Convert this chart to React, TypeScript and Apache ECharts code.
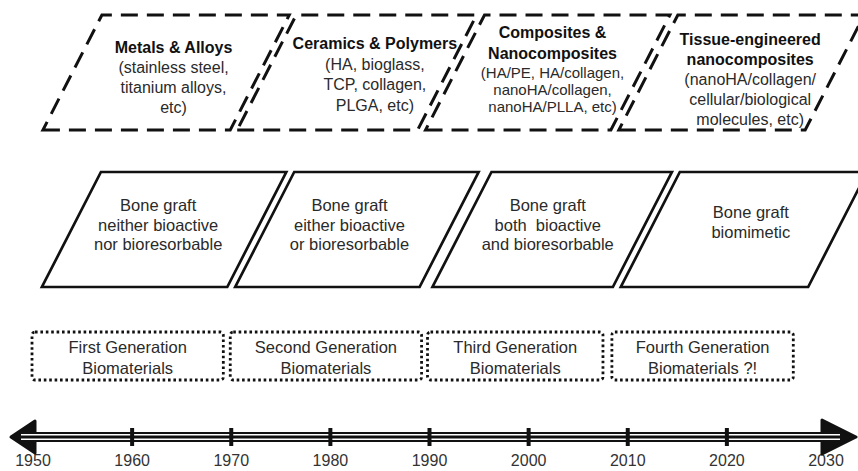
import React, { useEffect, useRef } from "react";
import * as echarts from "echarts";

// ---- data ----
const yearTicks = [1950, 1960, 1970, 1980, 1990, 2000, 2010, 2020, 2030];
const tickMarkYears = [1960, 1970, 1980, 1990, 2000, 2010, 2020];

const materialSpans = [
  [1951.0, 1969.9],
  [1970.6, 1988.8],
  [1989.6, 2008.3],
  [2009.1, 2027.9],
];
const materialTitles = [
  ["Metals & Alloys"],
  ["Ceramics & Polymers"],
  ["Composites &", "Nanocomposites"],
  ["Tissue-engineered", "nanocomposites"],
];
const materialExamples = [
  ["(stainless steel,", "titanium alloys,", "etc)"],
  ["(HA, bioglass,", "TCP, collagen,", "PLGA, etc)"],
  ["(HA/PE, HA/collagen,", "nanoHA/collagen,", "nanoHA/PLLA, etc)"],
  ["(nanoHA/collagen/", "cellular/biological", "molecules, etc)"],
];

const graftSpans = [
  [1950.9, 1969.6],
  [1970.4, 1989.0],
  [1990.3, 2008.5],
  [2009.3, 2028.2],
];
const graftLabels = [
  ["Bone graft", "neither bioactive", "nor bioresorbable"],
  ["Bone graft", "either bioactive", "or bioresorbable"],
  ["Bone graft", "both  bioactive", "and bioresorbable"],
  ["Bone graft", "biomimetic"],
];

const generationSpans = [
  [1949.9, 1969.2],
  [1969.9, 1989.2],
  [1989.8, 2007.5],
  [2008.4, 2026.7],
];
const generationLabels = [
  ["First Generation", "Biomaterials"],
  ["Second Generation", "Biomaterials"],
  ["Third Generation", "Biomaterials"],
  ["Fourth Generation", "Biomaterials ?!"],
];

// ---- layout (pixel-like y units above the timeline) ----
const ROW_TOP = [307, 422];
const ROW_MID = [150, 265];
const ROW_GEN = [57, 105];
const SKEW = 59;
const FONT = "'Liberation Sans', Arial, Helvetica, sans-serif";

const topLayout = [
  { dx: 10, dy: 5, subSize: 16, subLH: 20, titleLH: 20 },
  { dx: 19, dy: 2, subSize: 16, subLH: 20.5, titleLH: 20.5 },
  { dx: 2.5, dy: -4.5, subSize: 15, subLH: 17, titleLH: 21 },
  { dx: 12, dy: 6.5, subSize: 16, subLH: 20, titleLH: 20 },
];
const midLayout = [
  { dx: -8.5, dy: -5 },
  { dx: -10, dy: -5 },
  { dx: -7, dy: -5 },
  { dx: 3, dy: -7.5 },
];

type Line = { text: string; bold?: boolean; size: number; lh: number };

function textBlock(lines: Line[], cx: number, cy: number) {
  const total = lines.reduce((a, l) => a + l.lh, 0);
  let y = cy - total / 2;
  return lines.map((l) => {
    const el = {
      type: "text",
      x: cx,
      y: y + l.lh / 2,
      style: {
        text: l.text,
        fill: l.bold ? "#111" : "#2a2a2a",
        fontSize: l.size,
        fontWeight: l.bold ? "bold" : "normal",
        fontFamily: FONT,
        align: "center",
        verticalAlign: "middle",
      },
    };
    y += l.lh;
    return el;
  });
}

function skewPoints(api: any, s: number, e: number, row: number[]) {
  const bl = api.coord([s, row[0]]);
  const br = api.coord([e, row[0]]);
  const top = api.coord([s, row[1]])[1];
  const bottom = bl[1];
  return {
    points: [
      [bl[0], bottom],
      [br[0], bottom],
      [br[0] + SKEW, top],
      [bl[0] + SKEW, top],
    ],
    bl: bl[0],
    br: br[0],
    top,
    bottom,
  };
}

export default function App() {
  const ref = useRef<HTMLDivElement>(null);

  useEffect(() => {
    const chart = echarts.init(ref.current!, null, { renderer: "svg" });

    const option: any = {
      animation: false,
      backgroundColor: "#ffffff",
      grid: { left: 33, right: 32, top: 15, bottom: 34 },
      xAxis: {
        type: "value",
        min: 1950,
        max: 2030,
        interval: 10,
        axisLine: { show: false },
        axisTick: { show: false },
        splitLine: { show: false },
        axisLabel: {
          show: true,
          showMinLabel: true,
          showMaxLabel: true,
          margin: 15,
          fontSize: 16,
          color: "#333",
          fontFamily: FONT,
          formatter: (v: number) => (yearTicks.includes(v) ? String(v) : ""),
        },
      },
      yAxis: {
        type: "value",
        min: 0,
        max: 422,
        show: false,
      },
      series: [
        // Materials row (dashed parallelograms)
        {
          type: "custom",
          clip: false,
          data: materialSpans.map((s, i) => [s[0], s[1], i]),
          encode: { x: [0, 1] },
          renderItem: (params: any, api: any) => {
            const i = api.value(2);
            const g = skewPoints(api, api.value(0), api.value(1), ROW_TOP);
            const L = topLayout[i];
            const cy = (g.top + g.bottom) / 2 + L.dy;
            const cx =
              (g.bl + g.br) / 2 + (SKEW * (g.bottom - cy)) / (g.bottom - g.top) + L.dx;
            const lines: Line[] = [
              ...materialTitles[i].map((t) => ({ text: t, bold: true, size: 16, lh: L.titleLH })),
              ...materialExamples[i].map((t) => ({ text: t, size: L.subSize, lh: L.subLH })),
            ];
            return {
              type: "group",
              children: [
                {
                  type: "polygon",
                  shape: { points: g.points },
                  style: { fill: "none", stroke: "#111", lineWidth: 3, lineDash: [17, 9] },
                },
                ...textBlock(lines, cx, cy),
              ],
            };
          },
        },
        // Bone graft row (solid parallelograms)
        {
          type: "custom",
          clip: false,
          data: graftSpans.map((s, i) => [s[0], s[1], i]),
          encode: { x: [0, 1] },
          renderItem: (params: any, api: any) => {
            const i = api.value(2);
            const g = skewPoints(api, api.value(0), api.value(1), ROW_MID);
            const L = midLayout[i];
            const cy = (g.top + g.bottom) / 2 + L.dy;
            const cx =
              (g.bl + g.br) / 2 + (SKEW * (g.bottom - cy)) / (g.bottom - g.top) + L.dx;
            const lines: Line[] = graftLabels[i].map((t) => ({ text: t, size: 16.5, lh: 19.5 }));
            return {
              type: "group",
              children: [
                {
                  type: "polygon",
                  shape: { points: g.points },
                  style: { fill: "none", stroke: "#111", lineWidth: 2.7, lineJoin: "miter" },
                },
                ...textBlock(lines, cx, cy),
              ],
            };
          },
        },
        // Generations row (dotted rectangles)
        {
          type: "custom",
          clip: false,
          data: generationSpans.map((s, i) => [s[0], s[1], i]),
          encode: { x: [0, 1] },
          renderItem: (params: any, api: any) => {
            const i = api.value(2);
            const bl = api.coord([api.value(0), ROW_GEN[0]]);
            const tr = api.coord([api.value(1), ROW_GEN[1]]);
            const cx = (bl[0] + tr[0]) / 2;
            const cy = (bl[1] + tr[1]) / 2 + 1.5;
            const lines: Line[] = generationLabels[i].map((t) => ({ text: t, size: 16.5, lh: 21 }));
            return {
              type: "group",
              children: [
                {
                  type: "rect",
                  shape: { x: bl[0], y: tr[1], width: tr[0] - bl[0], height: bl[1] - tr[1], r: 3 },
                  style: { fill: "none", stroke: "#111", lineWidth: 2.8, lineDash: [2.6, 2.8] },
                },
                ...textBlock(lines, cx, cy),
              ],
            };
          },
        },
        // Timeline bar with arrows
        {
          type: "custom",
          clip: false,
          data: [[1950, 2030]],
          encode: { x: [0, 1] },
          renderItem: (params: any, api: any) => {
            const p0 = api.coord([api.value(0), 0]);
            const p1 = api.coord([api.value(1), 0]);
            const y = p0[1];
            return {
              type: "group",
              children: [
                {
                  type: "rect",
                  shape: { x: p0[0] - 14, y: y - 5, width: p1[0] - p0[0] + 24, height: 10 },
                  style: { fill: "#111" },
                },
                {
                  type: "polygon",
                  shape: {
                    points: [
                      [p0[0] - 22, y],
                      [p0[0] + 2, y - 16],
                      [p0[0] + 2, y + 16],
                    ],
                  },
                  style: { fill: "#111", stroke: "#111", lineWidth: 3, lineJoin: "round" },
                },
                {
                  type: "polygon",
                  shape: {
                    points: [
                      [p1[0] - 4, y - 17],
                      [p1[0] + 30, y],
                      [p1[0] - 4, y + 17],
                    ],
                  },
                  style: { fill: "#111", stroke: "#111", lineWidth: 3, lineJoin: "round" },
                },
                {
                  type: "line",
                  shape: { x1: p0[0] - 12, y1: y - 2.3, x2: p1[0] + 14, y2: y - 2.3 },
                  style: { stroke: "#ffffff", lineWidth: 1.4 },
                },
                {
                  type: "line",
                  shape: { x1: p0[0] - 12, y1: y + 2.3, x2: p1[0] + 14, y2: y + 2.3 },
                  style: { stroke: "#ffffff", lineWidth: 1.4 },
                },
              ],
            };
          },
        },
        // Decade tick marks
        {
          type: "custom",
          clip: false,
          data: tickMarkYears.map((yr) => [yr]),
          encode: { x: 0 },
          renderItem: (params: any, api: any) => {
            const p = api.coord([api.value(0), 0]);
            return {
              type: "rect",
              shape: { x: p[0] - 2, y: p[1] - 9, width: 4, height: 18 },
              style: { fill: "#111" },
            };
          },
        },
      ],
    };

    chart.setOption(option);
    return () => chart.dispose();
  }, []);

  return (
    <div
      ref={ref}
      style={{ position: "absolute", left: 0, top: 0, width: 858, height: 471 }}
    />
  );
}
